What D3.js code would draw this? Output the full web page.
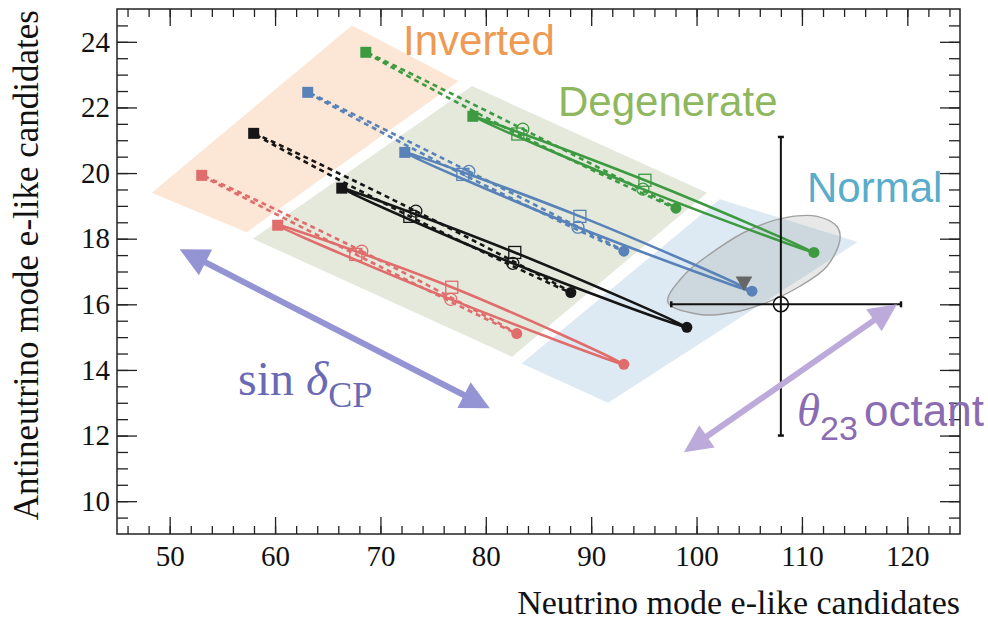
<!DOCTYPE html>
<html>
<head>
<meta charset="utf-8">
<script src="https://cdn.jsdelivr.net/npm/d3@7"></script>
<style>
  body { margin: 0; background: #fff; }
  svg { display: block; }
</style>
</head>
<body>
<div id="chart"></div>
<script>
// axis ticks
var xMajor = [50, 60, 70, 80, 90, 100, 110, 120];
var yMajor = [10, 12, 14, 16, 18, 20, 22, 24];

// one colour per sin^2(theta23) value
var seriesColors = ["#e06c6c", "#161616", "#5882b8", "#3d9a41"];

// each loop: dCP = +pi/2 (filled square), 0 (open circle), -pi/2 (filled circle), pi (open square)
var invertedLoops = [
  [[53.04, 19.93], [68.23, 17.62], [82.94, 15.11], [67.66, 17.52]],
  [[57.97, 21.21], [73.36, 18.84], [88.07, 16.36], [72.79, 18.68]],
  [[63.10, 22.46], [78.39, 20.05], [93.10, 17.62], [77.82, 19.96]],
  [[68.61, 23.68], [83.51, 21.34], [98.04, 18.93], [83.04, 21.19]]
];
var normalLoops = [
  [[60.25, 18.41], [76.68, 16.15], [93.10, 14.17], [76.77, 16.52]],
  [[66.33, 19.54], [82.56, 17.25], [99.08, 15.30], [82.75, 17.58]],
  [[72.31, 20.63], [88.74, 18.35], [105.26, 16.40], [88.93, 18.68]],
  [[78.77, 21.73], [94.91, 19.51], [111.14, 17.58], [95.10, 19.78]]
];

// observed data with errors
var observedPoint = [108, 16];
var observedXRange = [97.6, 119.4];
var observedYRange = [12.0, 21.1];
var bestFitPoint = [104.5, 16.7];

// contour around the data
var contour = [
  [97.28, 16.06], [100.32, 15.69], [103.45, 15.75], [106.68, 16.06], [109.81, 16.55],
  [112.38, 17.16], [113.61, 17.98], [113.33, 18.37], [111.43, 18.68], [108.58, 18.65],
  [105.07, 18.28], [101.93, 17.68], [98.70, 16.85]
];

// shaded regions
var regionInverted = [[48.3, 19.4], [67.3, 24.5], [77.4, 22.8], [57.3, 18.2]];
var regionDegenerate = [[57.9, 18.0], [78.7, 22.65], [101.0, 19.4], [82.5, 14.4]];
var regionNormal = [[83.4, 14.2], [102.2, 19.2], [115.3, 17.9], [91.6, 13.0]];

// arrows
var arrowDeltaCP = [[50.95, 17.68], [80.38, 12.83]];
var arrowOctant = [[98.80, 11.49], [119.02, 16.0]];

var margin = {top: 9, right: 28, bottom: 86, left: 117},
    width = 988 - margin.left - margin.right,
    height = 620 - margin.top - margin.bottom;

var root = d3.select("#chart").append("svg")
    .attr("width", 988)
    .attr("height", 620);
var svg = root.append("g")
    .attr("transform", "translate(" + margin.left + "," + margin.top + ")");

var x = d3.scaleLinear().domain([45, 125]).range([0, width]);
var y = d3.scaleLinear().domain([9, 25]).range([height, 0]);

var poly = d3.line().x(function(d) { return x(d[0]); }).y(function(d) { return y(d[1]); });

// regions
svg.append("path").attr("d", poly(regionInverted) + "Z").attr("fill", "#fce6d5");
svg.append("path").attr("d", poly(regionDegenerate) + "Z").attr("fill", "#e4e9dc");
svg.append("path").attr("d", poly(regionNormal) + "Z").attr("fill", "#ddeaf3");

// contour
svg.append("path")
  .attr("d", poly.curve(d3.curveCatmullRomClosed)(contour))
  .attr("fill", "rgba(150,150,150,0.22)")
  .attr("stroke", "#a0a0a0")
  .attr("stroke-width", 1.4);

var loopLine = d3.line()
  .x(function(d) { return x(d[0]); })
  .y(function(d) { return y(d[1]); })
  .curve(d3.curveCardinalClosed.tension(0));

invertedLoops.forEach(function(l, i) {
  svg.append("path").attr("d", loopLine(l))
    .attr("fill", "none").attr("stroke", seriesColors[i])
    .attr("stroke-width", 2.6).attr("stroke-dasharray", "5,4");
});
normalLoops.forEach(function(l, i) {
  svg.append("path").attr("d", loopLine(l))
    .attr("fill", "none").attr("stroke", seriesColors[i])
    .attr("stroke-width", 2.6);
});

// markers
function markers(loops) {
  loops.forEach(function(l, i) {
    var c = seriesColors[i];
    svg.append("rect").attr("x", x(l[0][0]) - 5.5).attr("y", y(l[0][1]) - 5.5)
      .attr("width", 11).attr("height", 11).attr("fill", c);
    svg.append("circle").attr("cx", x(l[1][0])).attr("cy", y(l[1][1])).attr("r", 6)
      .attr("fill", "none").attr("stroke", c).attr("stroke-width", 1.3);
    svg.append("circle").attr("cx", x(l[2][0])).attr("cy", y(l[2][1])).attr("r", 5.5)
      .attr("fill", c);
    svg.append("rect").attr("x", x(l[3][0]) - 6).attr("y", y(l[3][1]) - 6)
      .attr("width", 12).attr("height", 12)
      .attr("fill", "none").attr("stroke", c).attr("stroke-width", 1.3);
  });
}
markers(invertedLoops);
markers(normalLoops);

// best fit triangle
svg.append("path")
  .attr("d", d3.symbol().type(d3.symbolTriangle).size(120)())
  .attr("transform", "translate(" + x(bestFitPoint[0]) + "," + y(bestFitPoint[1]) + ") rotate(180)")
  .attr("fill", "#666");

// observed point
var ox = x(observedPoint[0]), oy = y(observedPoint[1]);
svg.append("line").attr("x1", x(observedXRange[0])).attr("x2", x(observedXRange[1]))
  .attr("y1", oy).attr("y2", oy).attr("stroke", "#111").attr("stroke-width", 2);
svg.append("line").attr("y1", y(observedYRange[0])).attr("y2", y(observedYRange[1]))
  .attr("x1", ox).attr("x2", ox).attr("stroke", "#111").attr("stroke-width", 2);
observedXRange.forEach(function(v) {
  svg.append("line").attr("x1", x(v)).attr("x2", x(v)).attr("y1", oy - 3).attr("y2", oy + 3)
    .attr("stroke", "#111").attr("stroke-width", 2.5);
});
observedYRange.forEach(function(v) {
  svg.append("line").attr("y1", y(v)).attr("y2", y(v)).attr("x1", ox - 3).attr("x2", ox + 3)
    .attr("stroke", "#111").attr("stroke-width", 2.5);
});
svg.append("circle").attr("cx", ox).attr("cy", oy).attr("r", 7.5)
  .attr("fill", "none").attr("stroke", "#111").attr("stroke-width", 1.6);

// double headed arrows
function drawArrow(pts, color, headLen, headW, shaftW) {
  var p0 = [x(pts[0][0]), y(pts[0][1])], p1 = [x(pts[1][0]), y(pts[1][1])];
  var dx = p1[0] - p0[0], dy = p1[1] - p0[1], len = Math.hypot(dx, dy);
  var ux = dx / len, uy = dy / len, nx = -uy, ny = ux;
  svg.append("line")
    .attr("x1", p0[0] + ux * headLen * 0.8).attr("y1", p0[1] + uy * headLen * 0.8)
    .attr("x2", p1[0] - ux * headLen * 0.8).attr("y2", p1[1] - uy * headLen * 0.8)
    .attr("stroke", color).attr("stroke-width", shaftW);
  [[p0, 1], [p1, -1]].forEach(function(h) {
    var t = h[0], s = h[1];
    var bx = t[0] + s * ux * headLen, by = t[1] + s * uy * headLen;
    svg.append("polygon")
      .attr("points", [[t[0], t[1]], [bx + nx * headW / 2, by + ny * headW / 2], [bx - nx * headW / 2, by - ny * headW / 2]].join(" "))
      .attr("fill", color);
  });
}
drawArrow(arrowDeltaCP, "#9494d4", 29, 29, 6);
drawArrow(arrowOctant, "#bcaadb", 28, 27, 6);

// region labels
var sans = "'Liberation Sans', Arial, sans-serif";
var serif = "'Liberation Serif', 'Times New Roman', serif";
root.append("text").attr("x", 403).attr("y", 55).text("Inverted")
  .style("font-family", sans).style("font-size", "42px").attr("fill", "#ee9a52");
root.append("text").attr("x", 558).attr("y", 116).text("Degenerate")
  .style("font-family", sans).style("font-size", "42px").attr("fill", "#8fb75e");
root.append("text").attr("x", 807).attr("y", 202).text("Normal")
  .style("font-family", sans).style("font-size", "42px").attr("fill", "#5aaccb");

// arrow labels
var t1 = root.append("text").attr("x", 238).attr("y", 395).attr("fill", "#6a6ab4")
  .style("font-family", serif).style("font-size", "48px");
t1.append("tspan").text("sin ");
t1.append("tspan").text("δ").style("font-style", "italic");
t1.append("tspan").text("CP").attr("dy", 12).style("font-size", "36px");

var t2 = root.append("text").attr("x", 797).attr("y", 426).attr("fill", "#8a6cb2");
t2.append("tspan").text("θ").style("font-family", serif).style("font-style", "italic").style("font-size", "47px");
t2.append("tspan").text("23").attr("dy", 14).style("font-family", sans).style("font-size", "34px");
t2.append("tspan").text("octant").attr("x", 864).attr("dy", -14).style("font-family", sans).style("font-size", "44px");

// axes
function styleAxis(g) {
  g.select(".domain").remove();
  g.selectAll(".tick line").attr("stroke", "#222").attr("stroke-width", 1.3);
  g.selectAll(".tick text").attr("fill", "#111")
    .style("font-family", serif).style("font-size", "29px");
}
var xMinor = d3.range(46, 125, 2);
var yMinor = d3.range(9.5, 25, 0.5);

svg.append("g").attr("transform", "translate(0," + height + ")")
  .call(d3.axisBottom(x).tickValues(xMinor).tickSize(-8).tickFormat("")).call(styleAxis);
svg.append("g").attr("transform", "translate(0," + height + ")")
  .call(d3.axisBottom(x).tickValues(xMajor).tickSize(-17).tickPadding(11)).call(styleAxis);
svg.append("g")
  .call(d3.axisTop(x).tickValues(xMinor).tickSize(-8).tickFormat("")).call(styleAxis);
svg.append("g")
  .call(d3.axisTop(x).tickValues(xMajor).tickSize(-17).tickFormat("")).call(styleAxis);
svg.append("g")
  .call(d3.axisLeft(y).tickValues(yMinor).tickSize(-11).tickFormat("")).call(styleAxis);
svg.append("g")
  .call(d3.axisLeft(y).tickValues(yMajor).tickSize(-20).tickPadding(7)).call(styleAxis);
svg.append("g").attr("transform", "translate(" + width + ",0)")
  .call(d3.axisRight(y).tickValues(yMinor).tickSize(-11).tickFormat("")).call(styleAxis);
svg.append("g").attr("transform", "translate(" + width + ",0)")
  .call(d3.axisRight(y).tickValues(yMajor).tickSize(-20).tickFormat("")).call(styleAxis);

svg.append("rect").attr("width", width).attr("height", height)
  .attr("fill", "none").attr("stroke", "#222").attr("stroke-width", 1.5);

// axis titles
root.append("text").attr("x", 960).attr("y", 614).attr("text-anchor", "end")
  .text("Neutrino mode e-like candidates")
  .style("font-family", serif).style("font-size", "34px").attr("fill", "#111");
root.append("text").attr("transform", "translate(38,10) rotate(-90)").attr("text-anchor", "end")
  .text("Antineutrino mode e-like candidates")
  .style("font-family", serif).style("font-size", "35px").attr("fill", "#111");
</script>
</body>
</html>
